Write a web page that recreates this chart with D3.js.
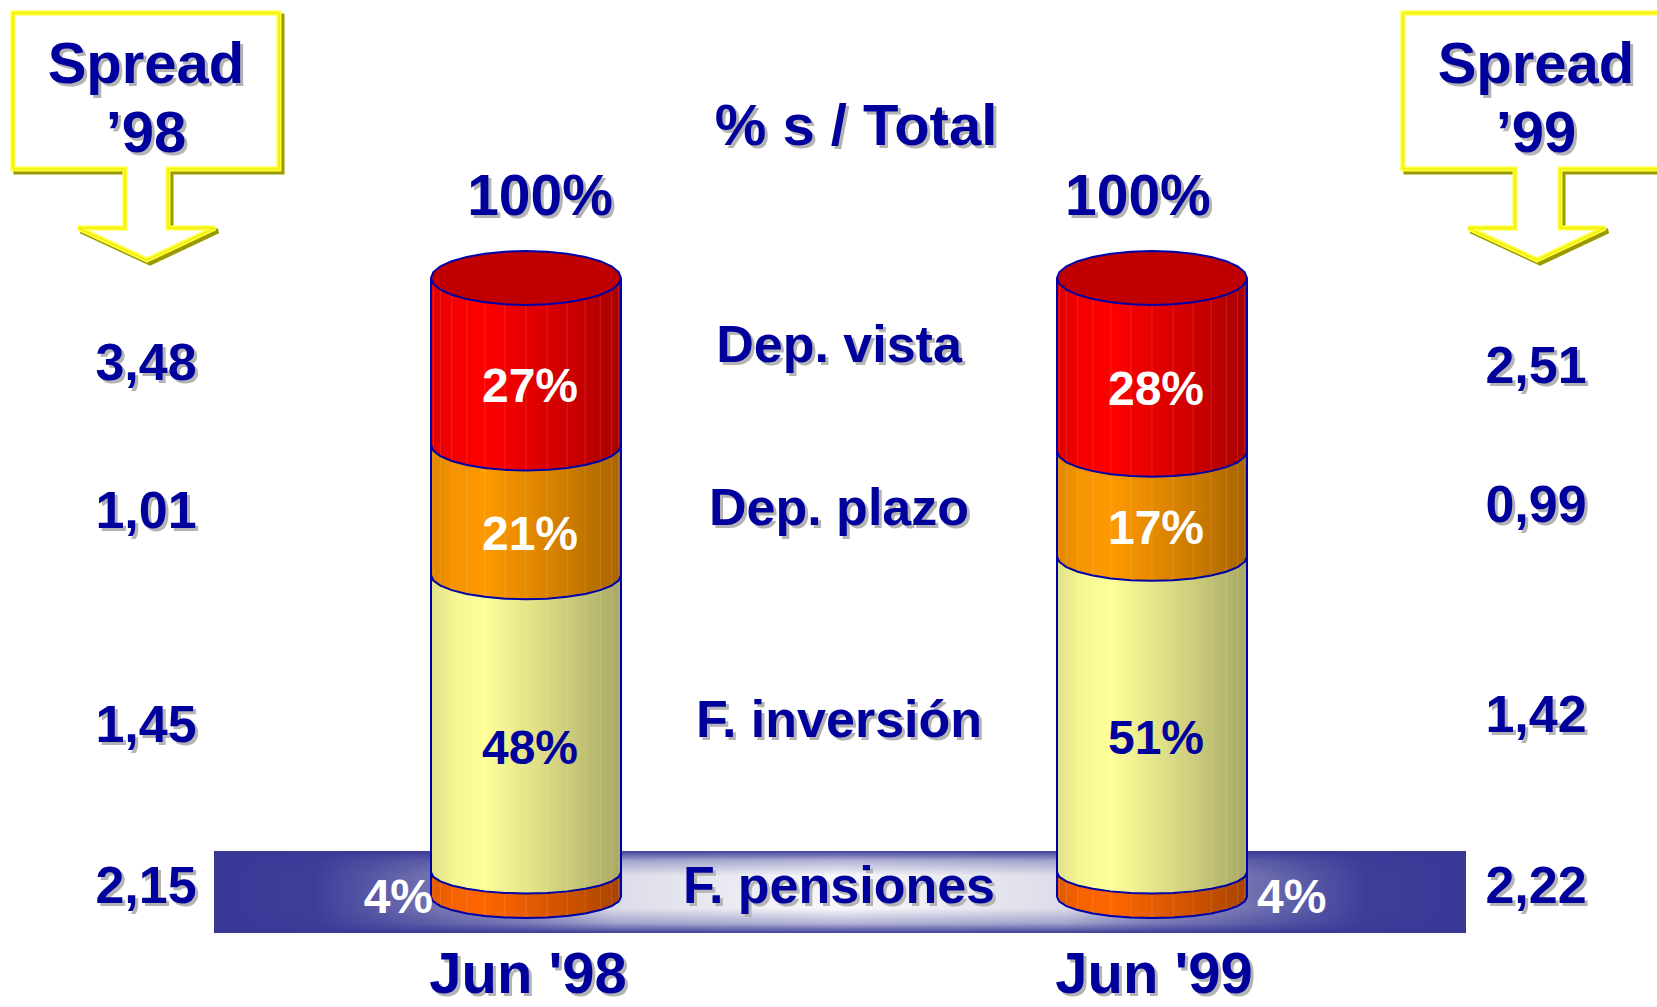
<!DOCTYPE html>
<html>
<head>
<meta charset="utf-8">
<script src="https://cdn.jsdelivr.net/npm/d3@7"></script>
<style>
  body { margin: 0; background: #fff; }
  svg { display: block; }
  text { font-family: "Liberation Sans", Arial, sans-serif; font-weight: bold; }
</style>
</head>
<body>
<div id="chart"></div>
<script>
// data
const periods = ["Jun '98", "Jun '99"];
const categories = ["F. pensiones", "F. inversión", "Dep. plazo", "Dep. vista"]; // bottom -> top
const shares98 = [4, 48, 21, 27];
const shares99 = [4, 51, 17, 28];
const spread98 = ["2,15", "1,45", "1,01", "3,48"];
const spread99 = ["2,22", "1,42", "0,99", "2,51"];
const totals = ["100%", "100%"];
const spreadTitles = ["’98", "’99"];

const segColors = ["#ff6600", "#ffff99", "#ff9900", "#ff0000"];
const segText = ["#ffffff", "#00009c", "#ffffff", "#ffffff"];
const blue = "#00009c";

const W = 1657, H = 1007;
const R = 95, RY_TOP = 27, RY_BOT = 21, FACETS = 28;

const table = periods.map((p, i) => {
  const row = { period: p };
  categories.forEach((c, k) => row[c] = [shares98, shares99][i][k]);
  return row;
});
const stacked = d3.stack().keys(categories)(table);

const x = d3.scalePoint().domain(periods).range([526, 1152]);
const y = d3.scaleLinear().domain([0, 100]).range([897, 278]);
const ry = d3.scaleLinear().domain([0, 100]).range([RY_BOT, RY_TOP]);

const svg = d3.select("#chart").append("svg")
  .attr("width", W).attr("height", H);
const defs = svg.append("defs");

// horizontal shading for cylinder sides
const shade = [[0, 0.88], [0.12, 0.96], [0.28, 1.0], [0.5, 0.9], [0.75, 0.79], [1, 0.66]];
segColors.forEach((c, k) => {
  const g = defs.append("linearGradient").attr("id", "seg" + k);
  shade.forEach(([o, f]) => {
    const col = d3.rgb(c);
    g.append("stop").attr("offset", o)
      .attr("stop-color", d3.rgb(col.r * f, col.g * f, col.b * f));
  });
});

// band gradients
const bandH = defs.append("linearGradient").attr("id", "bandH");
[[0, "#383896"], [0.08, "#3e3e9a"], [0.17, "#7070b0"], [0.25, "#9c9cc8"], [0.32, "#dcdce9"],
 [0.5, "#f8f8fb"], [0.68, "#dcdce9"], [0.75, "#9c9cc8"], [0.83, "#7070b0"], [0.92, "#3e3e9a"], [1, "#383896"]]
  .forEach(([o, c]) => bandH.append("stop").attr("offset", o).attr("stop-color", c));
const bandV = defs.append("linearGradient").attr("id", "bandV")
  .attr("x1", 0).attr("y1", 0).attr("x2", 0).attr("y2", 1);
[[0, 0.95], [0.12, 0.35], [0.3, 0], [0.7, 0], [0.88, 0.35], [1, 0.95]]
  .forEach(([o, a]) => bandV.append("stop").attr("offset", o)
    .attr("stop-color", "#383896").attr("stop-opacity", a));

function shadowText(g, txt, tx, ty, size, color, anchor, shadow) {
  if (shadow) {
    g.append("text").attr("x", tx + 3).attr("y", ty + 3)
      .attr("font-size", size).attr("text-anchor", anchor || "middle")
      .attr("fill", "#b4b4b4").text(txt);
  }
  g.append("text").attr("x", tx).attr("y", ty)
    .attr("font-size", size).attr("text-anchor", anchor || "middle")
    .attr("fill", color).text(txt);
}

// faceted arc points
function arcPts(cx, v, a0, a1) {
  const pts = [];
  const n = Math.round(Math.abs(a1 - a0) / (2 * Math.PI) * FACETS);
  for (let i = 0; i <= n; i++) {
    const a = a0 + (a1 - a0) * i / n;
    pts.push([cx - R * Math.cos(a), y(v) + ry(v) * Math.sin(a)]);
  }
  return pts;
}
const line = d3.line();

// callouts
const callouts = [
  "M13,13 H279 V169 H168 V228 H215 L147,260 L78,228 H125 V169 H13 Z",
  "M1403,13 H1690 V169 H1560 V228 H1605 L1537,260 L1468,228 H1515 V169 H1403 Z"
];
const calloutX = [146, 1536];
const cg = svg.append("g");
callouts.forEach((d, i) => {
  cg.append("path").attr("d", d).attr("fill", "none")
    .attr("stroke", "#9a9a00").attr("stroke-width", 5)
    .attr("transform", "translate(3,3)");
  cg.append("path").attr("d", d).attr("fill", "#fff")
    .attr("stroke", "#ffff33").attr("stroke-width", 5);
  cg.append("path").attr("d", d).attr("fill", "none")
    .attr("stroke", "#e6e600").attr("stroke-width", 1);
  shadowText(cg, "Spread", calloutX[i], 83, 58, blue, "middle", true);
  shadowText(cg, spreadTitles[i], calloutX[i], 152, 58, blue, "middle", true);
});

// title
shadowText(svg, "% s / Total", 856, 145, 58, blue, "middle", true);

// band behind F. pensiones
svg.append("rect").attr("x", 214).attr("y", 851).attr("width", 1252).attr("height", 82)
  .attr("fill", "url(#bandH)");
svg.append("rect").attr("x", 214).attr("y", 851).attr("width", 1252).attr("height", 82)
  .attr("fill", "url(#bandV)");

const midX = (x(periods[0]) + x(periods[1])) / 2;

// cylinders
periods.forEach((p, i) => {
  const cx = x(p);
  const g = svg.append("g");
  stacked.forEach((s, k) => {
    const [v0, v1] = s[i];
    const top = arcPts(cx, v1, 0, Math.PI);
    const bot = arcPts(cx, v0, 0, Math.PI);
    const pts = bot.concat(top.slice().reverse());
    g.append("path").attr("d", line(pts) + "Z").attr("fill", "url(#seg" + k + ")");
    // facet stripes
    for (let f = 1; f < FACETS / 2; f++) {
      const a = Math.PI * 2 * f / FACETS;
      const fx = cx - R * Math.cos(a);
      g.append("line")
        .attr("x1", fx).attr("x2", fx)
        .attr("y1", y(v1) + ry(v1) * Math.sin(a)).attr("y2", y(v0) + ry(v0) * Math.sin(a))
        .attr("stroke", "#fff").attr("stroke-opacity", 0.13).attr("stroke-width", 1);
    }
    g.append("path").attr("d", line(bot)).attr("fill", "none")
      .attr("stroke", "#0000a8").attr("stroke-width", 2);
  });
  // sides
  g.append("line").attr("x1", cx - R).attr("x2", cx - R).attr("y1", y(100)).attr("y2", y(0))
    .attr("stroke", "#0000a8").attr("stroke-width", 2);
  g.append("line").attr("x1", cx + R).attr("x2", cx + R).attr("y1", y(100)).attr("y2", y(0))
    .attr("stroke", "#0000a8").attr("stroke-width", 2);
  // top lid
  g.append("path").attr("d", line(arcPts(cx, 100, 0, Math.PI * 2)) + "Z")
    .attr("fill", "#c00000").attr("stroke", "#0000a8").attr("stroke-width", 2);

  // segment labels
  stacked.forEach((s, k) => {
    const [v0, v1] = s[i];
    const val = v1 - v0;
    if (k === 0) {
      const tx = i === 0 ? cx - R + 2 : cx + R + 10;
      svg.append("text").attr("x", tx).attr("y", y((v0 + v1) / 2) + 28)
        .attr("font-size", 48).attr("text-anchor", i === 0 ? "end" : "start")
        .attr("fill", "#fff").text(val + "%");
    } else {
      svg.append("text").attr("x", cx + 4).attr("y", y((v0 + v1) / 2) + 40)
        .attr("font-size", 48).attr("text-anchor", "middle")
        .attr("fill", segText[k]).text(val + "%");
    }
  });

  shadowText(svg, totals[i], cx + (midX - cx) * 0.045, y(100) - RY_TOP - 36, 57, blue, "middle", true);
  shadowText(svg, p, cx + 2, 993, 58, blue, "middle", true);
});

// category labels between the cylinders, centred on the visible part of each band
categories.forEach((c, k) => {
  const m = d3.mean(stacked[k], d => (d[0] + d[1]) / 2);
  const lift = k === categories.length - 1 ? RY_TOP * 0.7 : 0;
  shadowText(svg, c, midX, y(m) + 18 - lift, 52, blue, "middle", true);
});

// spread values
[spread98, spread99].forEach((vals, i) => {
  vals.forEach((v, k) => {
    const d = stacked[k][i];
    shadowText(svg, v, calloutX[i], y((d[0] + d[1]) / 2) + 18, 52, blue, "middle", true);
  });
});
</script>
</body>
</html>
